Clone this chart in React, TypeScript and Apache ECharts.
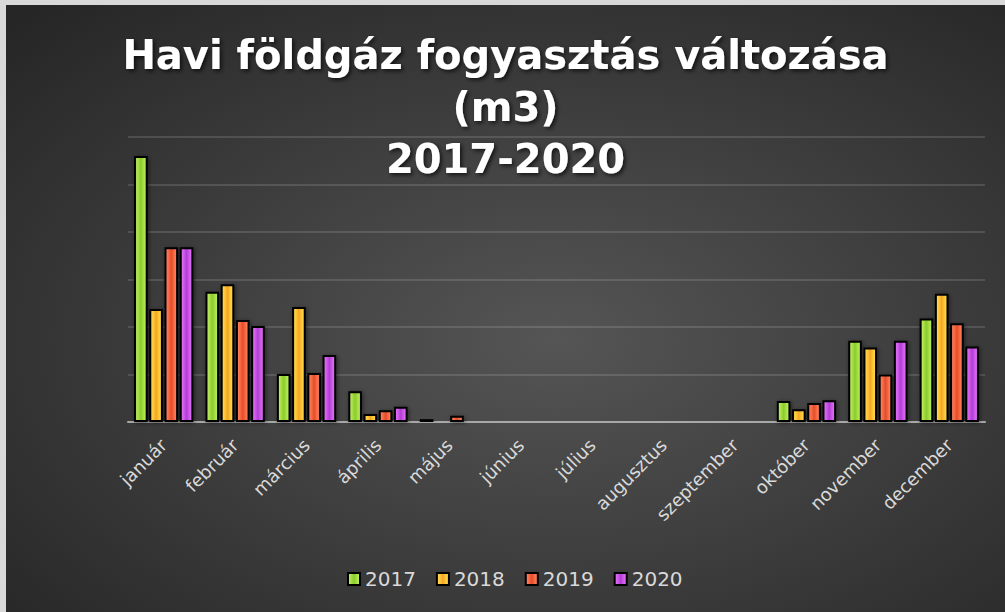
import React, { useEffect, useRef } from "react";
import * as echarts from "echarts";

const months = ["január", "február", "március", "április", "május", "június", "július", "augusztus", "szeptember", "október", "november", "december"];
const s2017 = [560, 274, 101, 65, 6, 1, 1, 1, 1, 44, 171, 218];
const s2018 = [238, 290, 242, 17, 1, 1, 1, 1, 1, 27, 157, 270];
const s2019 = [368, 215, 103, 25, 13, 1, 1, 1, 1, 40, 100, 208];
const s2020 = [368, 202, 141, 32, 1, 1, 1, 1, 1, 46, 171, 159];
const years = ["2017", "2018", "2019", "2020"];

const palettes = [
  ["#c8f270", "#a2de40", "#8cca2e"],
  ["#ffe25a", "#fdc235", "#f3a624"],
  ["#ff8c6c", "#f7663f", "#e24d2c"],
  ["#e87cf6", "#cc55ea", "#b03fd2"],
];

function grad(p: string[]) {
  return new echarts.graphic.LinearGradient(0, 0, 1, 0, [
    { offset: 0, color: p[0] },
    { offset: 0.3, color: p[1] },
    { offset: 0.5, color: p[2] },
    { offset: 0.7, color: p[1] },
    { offset: 1, color: p[0] },
  ]);
}

export default function App() {
  const ref = useRef<HTMLDivElement>(null);
  useEffect(() => {
    if (!ref.current) return;
    const chart = echarts.init(ref.current, undefined, { renderer: "svg" });
    const data = [s2017, s2018, s2019, s2020];
    chart.setOption({
      animation: false,
      backgroundColor: new echarts.graphic.RadialGradient(0.55, 0.55, 0.75, [
        { offset: 0, color: "#555555" },
        { offset: 1, color: "#262626" },
      ]),
      title: {
        text: "Havi földgáz fogyasztás változása\n(m3)\n2017-2020",
        left: "center",
        top: 19,
        textStyle: {
          color: "#ffffff",
          fontFamily: "DejaVu Sans",
          fontWeight: "bold",
          fontSize: 40,
          lineHeight: 52,
          textShadowColor: "rgba(0,0,0,0.7)",
          textShadowBlur: 4,
          textShadowOffsetX: 2,
          textShadowOffsetY: 2,
        },
      },
      legend: {
        data: years,
        bottom: 18,
        left: 336,
        itemWidth: 12,
        itemHeight: 12,
        itemGap: 20,
        icon: "rect",
        textStyle: { color: "#d9d9d9", fontSize: 20, fontFamily: "DejaVu Sans" },
      },
      grid: { left: 122, right: 20, top: 132, bottom: 190 },
      xAxis: {
        type: "category",
        data: months,
        z: 1,
        axisLine: { lineStyle: { color: "#a8a8a8", width: 2 } },
        axisTick: { show: false },
        axisLabel: {
          rotate: 45,
          color: "#d9d9d9",
          fontSize: 18,
          fontFamily: "DejaVu Sans",
          margin: 20,
          interval: 0,
        },
      },
      yAxis: {
        type: "value",
        min: 0,
        max: 600,
        interval: 100,
        axisLabel: { show: false },
        axisLine: { show: false },
        axisTick: { show: false },
        splitLine: { lineStyle: { color: "rgba(255,255,255,0.13)", width: 2 } },
      },
      series: years.map((y, i) => ({
        name: y,
        type: "bar",
        z: 3,
        data: data[i],
        barGap: "12%",
        barCategoryGap: "17%",
        barMinHeight: 2,
        itemStyle: {
          color: grad(palettes[i]),
          borderColor: "#000000",
          borderWidth: 2,
          shadowColor: "rgba(0,0,0,0.5)",
          shadowBlur: 4,
          shadowOffsetX: 1,
          shadowOffsetY: 1,
        },
      })),
    });
    return () => chart.dispose();
  }, []);
  return (
    <div style={{ position: "fixed", left: 0, top: 0, width: 1005, height: 612, background: "#d9d9d9" }}>
      <div ref={ref} style={{ position: "absolute", left: 6, top: 5, width: 999, height: 607 }} />
    </div>
  );
}
